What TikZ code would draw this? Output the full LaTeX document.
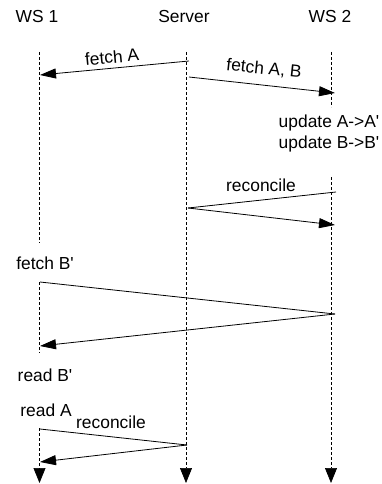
\documentclass[tikz,border=0pt]{standalone}
\usepackage{fontspec}
\setmainfont{Liberation Sans}[Ligatures=TeXOff]
\usetikzlibrary{arrows.meta}
\begin{document}
\begin{tikzpicture}[x=1pt,y=-1pt,
  lbl/.style={inner sep=0pt,font=\fontsize{17.4}{20}\selectfont},
  life/.style={line width=0.7pt,dash pattern=on 3pt off 2pt},
  lifeend/.style={life,-{Triangle[length=15pt,width=12pt]}},
  msg/.style={line width=0.8pt},
  msgarrow/.style={msg,-{Triangle[length=16pt,width=10pt]}}]
\useasboundingbox (0,0) rectangle (381,484);
% headers
\node[lbl] (h1) at (37,17) {WS 1};
\node[lbl] (h2) at (184,17) {Server};
\node[lbl] (h3) at (330,17) {WS 2};
% lifeline coordinates
\coordinate (a0) at (39.5,52);
\coordinate (a1) at (39.5,243);
\coordinate (a2) at (39.5,282);
\coordinate (a3) at (39.5,353);
\coordinate (a4) at (39.5,428);
\coordinate (a5) at (39.5,483);
\coordinate (s0) at (186,52);
\coordinate (s5) at (186,483);
\coordinate (w0) at (331,52);
\coordinate (w1) at (331,107);
\coordinate (w2) at (331,177);
\coordinate (w5) at (331,483);
\draw[life] (a0) -- (a1);
\draw[life] (a2) -- (a3);
\draw[lifeend] (a4) -- (a5);
\draw[lifeend] (s0) -- (s5);
\draw[life] (w0) -- (w1);
\draw[lifeend] (w2) -- (w5);
% message end points
\coordinate (m1s) at (189,61);
\coordinate (m1e) at (40,75);
\coordinate (m2s) at (189,77);
\coordinate (m2e) at (335,93);
\coordinate (m3a) at (336,192);
\coordinate (m3b) at (188,208);
\coordinate (m3c) at (335,225);
\coordinate (m4a) at (40,282);
\coordinate (m4b) at (335,314);
\coordinate (m4c) at (40,346);
\coordinate (m5a) at (40,429);
\coordinate (m5b) at (187,445);
\coordinate (m5c) at (40,462);
% messages
\draw[msgarrow] (m1s) -- (m1e);
\node[lbl,rotate=5.4] (t1) at (112,57) {fetch A};
\draw[msgarrow] (m2s) -- (m2e);
\node[lbl,rotate=-6.2] (t2) at (264,69) {fetch A, B};
\node[lbl] (u1) at (329,123) {update A->A'};
\node[lbl] (u2) at (329,144) {update B->B'};
\draw[msg] (m3a) -- (m3b);
\draw[msgarrow] (m3b) -- (m3c);
\node[lbl] (t3) at (261,185) {reconcile};
\node[lbl] (f1) at (45,263) {fetch B'};
\draw[msg] (m4a) -- (m4b);
\draw[msgarrow] (m4b) -- (m4c);
\node[lbl] (r1) at (45,375) {read B'};
\node[lbl] (r2) at (46,410) {read A};
\draw[msg] (m5a) -- (m5b);
\draw[msgarrow] (m5b) -- (m5c);
\node[lbl] (t5) at (111,422) {reconcile};
\end{tikzpicture}
\end{document}
